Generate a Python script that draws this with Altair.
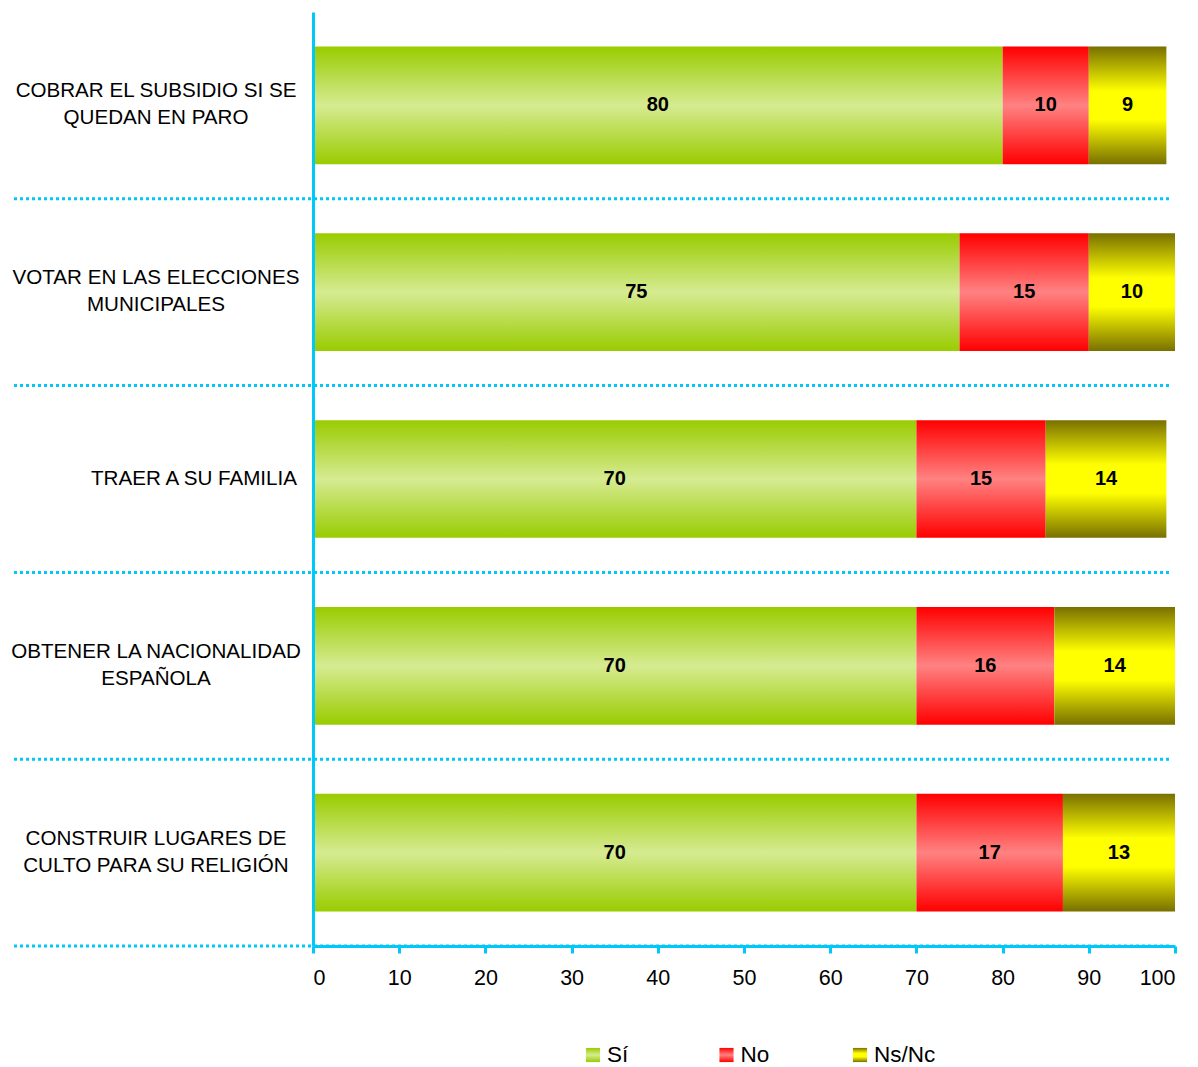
import altair as alt
import pandas as pd

categorias = [
    "COBRAR EL SUBSIDIO SI SE|QUEDAN EN PARO",
    "VOTAR EN LAS ELECCIONES|MUNICIPALES",
    "TRAER A SU FAMILIA",
    "OBTENER LA NACIONALIDAD|ESPAÑOLA",
    "CONSTRUIR LUGARES DE|CULTO PARA SU RELIGIÓN",
]
series = ["Sí", "No", "Ns/Nc"]
si = [80, 75, 70, 70, 70]
no = [10, 15, 15, 16, 17]
nsnc = [9, 10, 14, 14, 13]
ticks_x = list(range(0, 101, 10))

valores = {"Sí": si, "No": no, "Ns/Nc": nsnc}
rows = []
for i, c in enumerate(categorias):
    for j, s in enumerate(series):
        rows.append({"cat": c, "serie": s, "orden": j, "valor": valores[s][i]})
df = pd.DataFrame(rows)
cat_df = pd.DataFrame({"cat": categorias})

CYAN = "#00C8F8"
FONT = "Liberation Sans"
W, H = 862, 934
P_INNER = 0.37
P_OUTER = P_INNER / 2
HALF_GAP = H / len(categorias) * P_INNER / 2


def grad(edge, center, stops=(0, 0.5, 1)):
    if len(stops) == 3:
        cols = [edge, center, edge]
    else:
        cols = [edge, center, center, edge]
    return alt.Gradient(
        gradient="linear", x1=0, y1=0, x2=0, y2=1,
        stops=[alt.GradientStop(color=c, offset=o) for c, o in zip(cols, stops)],
    )


gradientes = {
    "Sí": grad("#99CC00", "#D6EB92"),
    "No": grad("#FF0000", "#FF8282"),
    "Ns/Nc": grad("#787000", "#FFFF00", (0, 0.38, 0.62, 1)),
}

yaxis = alt.Axis(
    title=None,
    labels=False,
    ticks=False,
    domainColor=CYAN,
    domainWidth=3,
    grid=False,
    zindex=1,
)
yscale = alt.Scale(paddingInner=P_INNER, paddingOuter=P_OUTER)
xaxis = alt.Axis(
    title=None,
    values=ticks_x,
    labelFont=FONT,
    labelFontSize=21.5,
    labelColor="#000000",
    labelPadding=14,
    domainColor=CYAN,
    domainWidth=3,
    tickColor=CYAN,
    tickWidth=3,
    tickSize=7,
    grid=False,
    zindex=1,
)
xscale = alt.Scale(domain=[0, 100], nice=False)

base = alt.Chart(df).transform_stack(
    stack="valor", groupby=["cat"], as_=["x0", "x1"],
    sort=[alt.SortField(field="orden", order="ascending")],
).transform_calculate(mid="(datum.x0 + datum.x1) / 2")

ypos = alt.Y("cat:N", sort=categorias, scale=yscale, axis=yaxis)

capas = []
for s in series:
    capas.append(
        base.transform_filter(alt.datum.serie == s)
        .mark_bar(fill=gradientes[s], strokeWidth=0)
        .encode(x=alt.X("x0:Q", scale=xscale, axis=xaxis), x2="x1:Q", y=ypos)
    )

textos = base.mark_text(font=FONT, fontSize=20, fontWeight="bold", color="#000000").encode(
    x=alt.X("mid:Q", scale=xscale, axis=xaxis), y=ypos, text="valor:Q"
)

single = "indexof(datum.cat, '|') < 0"
etiquetas = alt.Chart(cat_df).mark_text(
    font=FONT,
    fontSize=20.6,
    color="#000000",
    baseline="middle",
    lineHeight=27,
    align=alt.expr(f"{single} ? 'right' : 'center'"),
    dx=alt.expr(f"{single} ? -16 : -157"),
    dy=alt.expr(f"{single} ? 0 : -14"),
    text=alt.expr("split(datum.cat, '|')"),
).encode(y=ypos, x=alt.value(0))

# separators halfway between bars: bottom of each band + half the inner gap
sep = alt.Chart(cat_df).mark_rule(
    color=CYAN, strokeWidth=3, strokeDash=[3, 3], yOffset=HALF_GAP
).encode(
    y=alt.Y("cat:N", sort=categorias, scale=yscale, axis=yaxis, bandPosition=1),
    x=alt.value(-299),
    x2=alt.value(857),
)

principal = alt.layer(sep, *capas, textos, etiquetas).properties(width=W, height=H)

ley_df = pd.DataFrame({"serie": series})
lx = alt.X("serie:N", sort=series,
           scale=alt.Scale(type="point", range=[280, 547], padding=0), axis=None)
ley_capas = []
for s in series:
    ley_capas.append(
        alt.Chart(ley_df).transform_filter(alt.datum.serie == s)
        .mark_square(size=200, fill=gradientes[s], opacity=1, strokeWidth=0)
        .encode(x=lx)
    )
ley_txt = alt.Chart(ley_df).mark_text(
    font=FONT, fontSize=22.5, align="left", dx=14, color="#000000"
).encode(x=lx, text="serie:N")
leyenda = alt.layer(*ley_capas, ley_txt).properties(width=W, height=20)

chart = alt.vconcat(principal, leyenda, spacing=55).properties(
    padding={"left": 2, "top": 4, "right": 5, "bottom": 0}
).configure_view(stroke=None)

chart.save("out.html", embed_options={"renderer": "svg", "actions": False})
